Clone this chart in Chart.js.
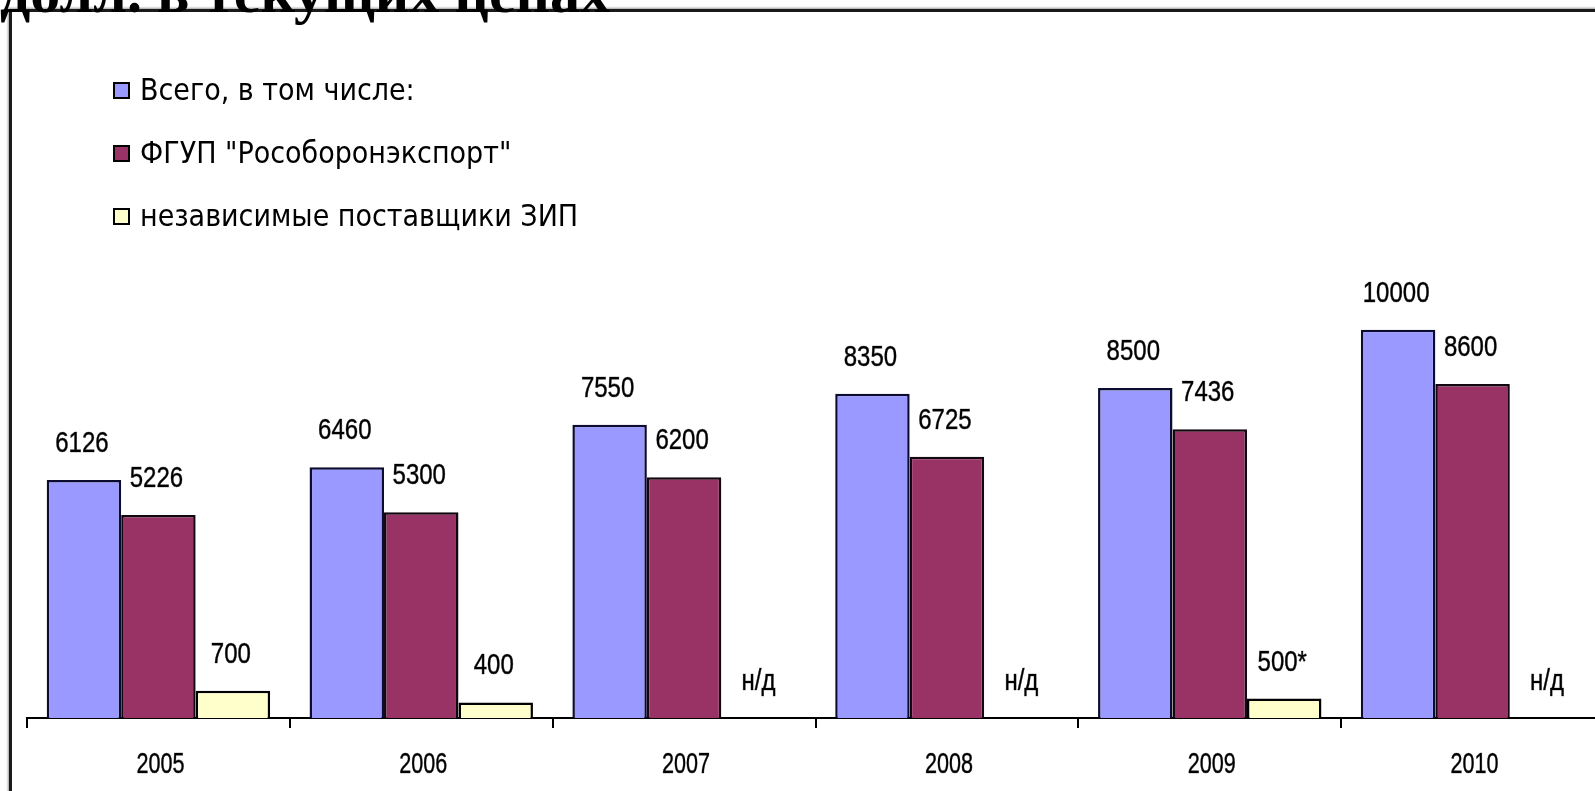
<!DOCTYPE html>
<html lang="ru">
<head>
<meta charset="utf-8">
<script src="https://cdn.jsdelivr.net/npm/chart.js@4.4.1/dist/chart.umd.min.js"></script>
<style>
    html, body { margin: 0; padding: 0; background: #fff; overflow: hidden; width: 1595px; height: 791px; }
    #frame { position: absolute; left: 9px; top: 9px; width: 1600px; height: 800px;
             border-top: 3px solid #1a1a1a; border-left: 3px solid #1a1a1a;
             box-shadow: -1px -1px 2px #999; }
    #title { position: absolute; left: 0; top: -38px; z-index: 2; white-space: nowrap;
             font: bold 60px/60px 'Liberation Serif', 'Times New Roman', serif; color: #000; }
    #chart { position: absolute; left: 0; top: 0; z-index: 1; }
</style>
</head>
<body>
<div id="frame"></div>
<div id="title">долл. в текущих ценах</div>
<canvas id="chart" width="1604" height="791"></canvas>
<script>
const years = ['2005', '2006', '2007', '2008', '2009', '2010'];
const seriesNames = ['Всего, в том числе:', 'ФГУП "Рособоронэкспорт"', 'независимые поставщики ЗИП'];
const totalValues = [6126, 6460, 7550, 8350, 8500, 10000];
const rosoboronValues = [5226, 5300, 6200, 6725, 7436, 8600];
const suppliersValues = [700, 400, null, null, 500, null];
const suppliersMarks = ['', '', '', '', '*', ''];
const noDataText = 'н/д';

const labelFont = '30px "Liberation Sans", Arial, sans-serif';
const legendFont = '30px "DejaVu Sans Condensed", "DejaVu Sans", sans-serif';

// the original uses a tall, narrow font: squeeze the text horizontally
function narrowText(ctx, text, x, y, sx) {
    ctx.save();
    ctx.translate(x, y);
    ctx.scale(sx, 1);
    ctx.strokeText(text, 0, 0);
    ctx.fillText(text, 0, 0);
    ctx.restore();
}

// value labels above bars, "н/д" where there is no value, year labels under the axis
const barLabels = {
    id: 'barLabels',
    afterDatasetsDraw(chart) {
        const ctx = chart.ctx;
        const xScale = chart.scales.x;
        const base = chart.scales.y.getPixelForValue(0);
        const m0 = chart.getDatasetMeta(0);
        const m1 = chart.getDatasetMeta(1);
        ctx.save();
        ctx.font = labelFont;
        ctx.fillStyle = '#000';
        ctx.strokeStyle = 'rgba(0,0,0,0.6)';
        ctx.lineWidth = 0.7;
        ctx.textAlign = 'center';
        ctx.textBaseline = 'alphabetic';
        chart.data.datasets.forEach((ds, di) => {
            const meta = chart.getDatasetMeta(di);
            ds.data.forEach((v, i) => {
                if (v == null) {
                    const x = m1.data[i].x + (m1.data[i].x - m0.data[i].x);
                    narrowText(ctx, noDataText, x, base - 28, 0.8);
                } else {
                    const bar = meta.data[i];
                    const text = String(v) + (di === 2 ? suppliersMarks[i] : '');
                    narrowText(ctx, text, bar.x - 2, bar.y - 28, 0.8);
                }
            });
        });
        chart.data.labels.forEach((lab, i) => {
            narrowText(ctx, lab, xScale.getPixelForValue(i) + 2, base + 55, 0.72);
        });
        ctx.restore();
    }
};

// vertical legend in the upper left corner
const sideLegend = {
    id: 'sideLegend',
    afterDraw(chart) {
        const ctx = chart.ctx;
        ctx.save();
        ctx.font = legendFont;
        ctx.textBaseline = 'middle';
        ctx.textAlign = 'left';
        chart.data.datasets.forEach((ds, i) => {
            const cy = 91 + i * 63;
            ctx.fillStyle = ds.backgroundColor;
            ctx.fillRect(114, cy - 8, 15, 15);
            ctx.strokeStyle = '#000';
            ctx.lineWidth = 2;
            ctx.strokeRect(114, cy - 8, 15, 15);
            ctx.fillStyle = '#000';
            ctx.fillText(ds.label, 140, cy + 1);
        });
        ctx.restore();
    }
};

new Chart(document.getElementById('chart').getContext('2d'), {
    type: 'bar',
    data: {
        labels: years,
        datasets: [
            {
                label: seriesNames[0],
                data: totalValues,
                backgroundColor: '#9999FF',
                borderColor: '#0c0c30',
                borderWidth: 2.5,
            },
            {
                label: seriesNames[1],
                data: rosoboronValues,
                backgroundColor: '#993366',
                borderColor: '#140810',
                borderWidth: 2.5,
            },
            {
                label: seriesNames[2],
                data: suppliersValues,
                backgroundColor: '#FFFFCC',
                borderColor: '#000',
                borderWidth: 2.5,
            },
        ],
    },
    options: {
        responsive: false,
        animation: false,
        layout: { padding: { left: 27, right: 0, top: 252, bottom: 0 } },
        datasets: { bar: { categoryPercentage: 0.85, barPercentage: 1 } },
        plugins: {
            legend: { display: false },
            tooltip: { enabled: false },
        },
        scales: {
            x: {
                grid: { offset: true, drawOnChartArea: false, color: '#000', lineWidth: 2, tickLength: 10 },
                border: { color: '#000', width: 2 },
                ticks: { display: false },
                afterFit(scale) { scale.height = 73; },
            },
            y: { display: false, min: 0, max: 12000 },
        },
    },
    plugins: [barLabels, sideLegend],
});
</script>
</body>
</html>
